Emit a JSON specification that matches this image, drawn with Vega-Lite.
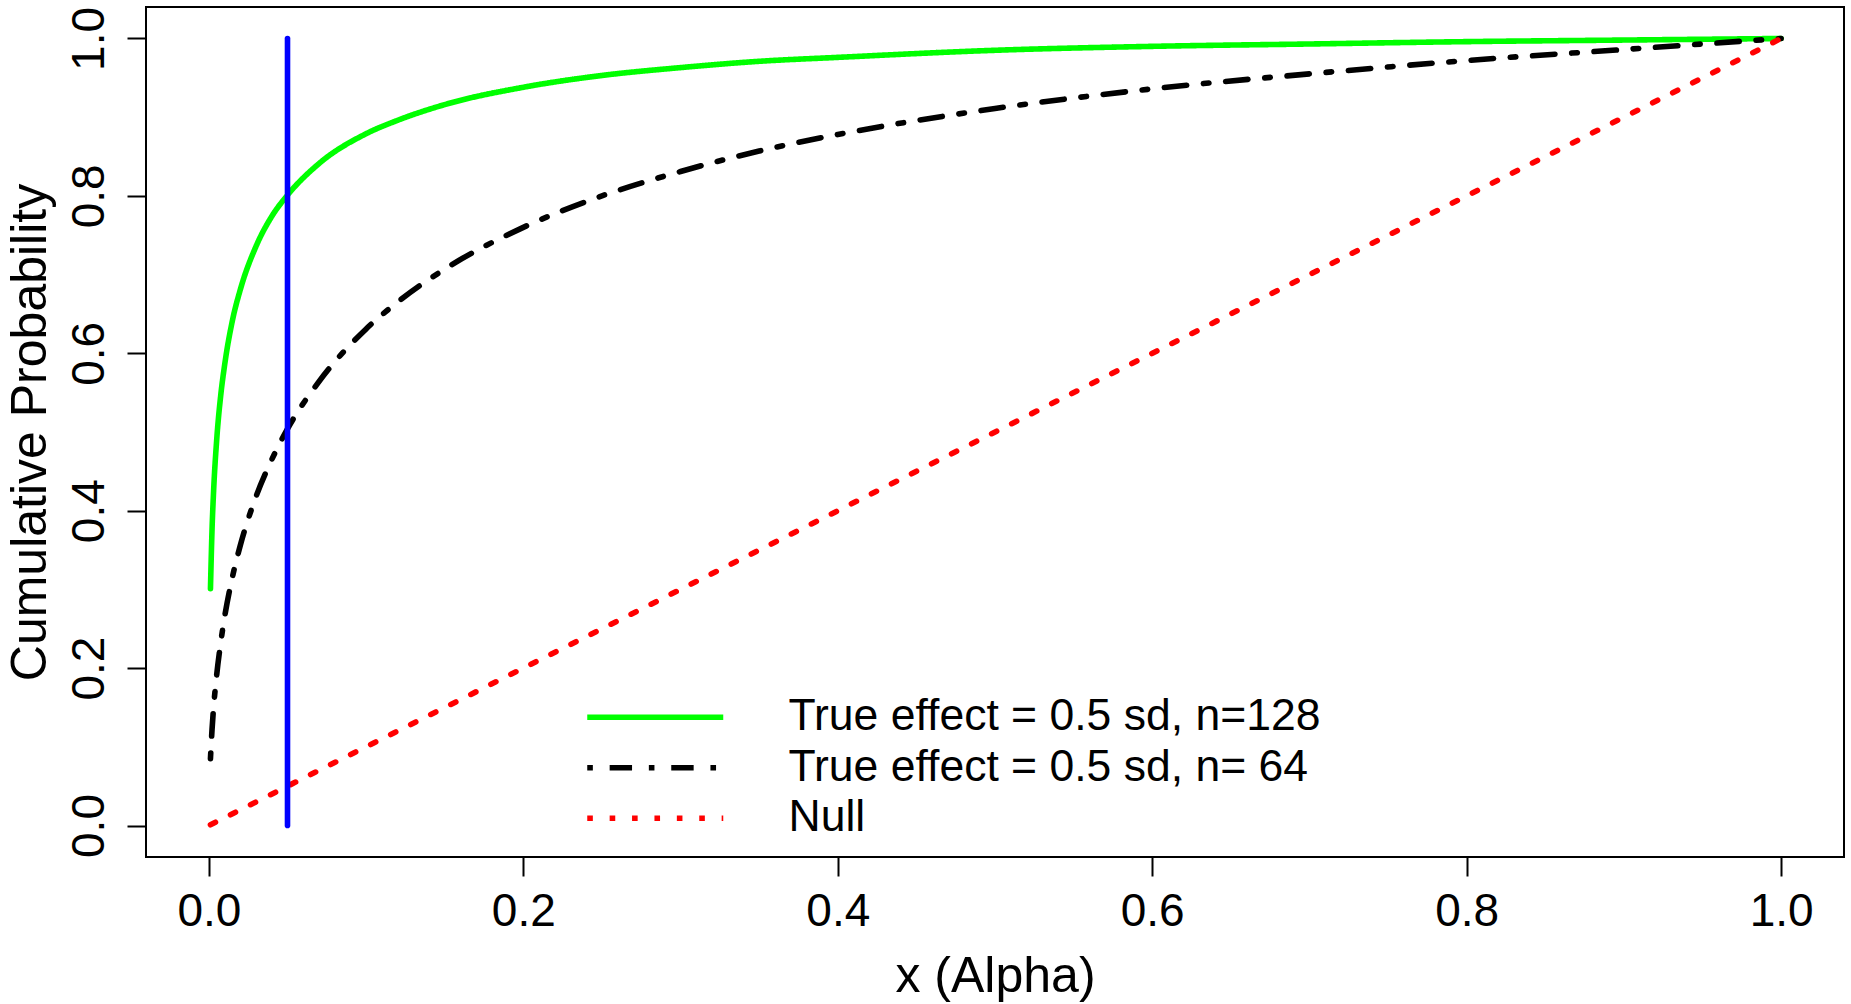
{
  "$schema": "https://vega.github.io/schema/vega-lite/v6.json",
  "width": 1698,
  "height": 850,
  "autosize": {"type": "none"},
  "padding": {"left": 146, "top": 7, "right": 7, "bottom": 147},
  "background": "white",
  "title": {
    "text": "Power by Type I error rate, p-value cutoff",
    "fontSize": 62,
    "fontWeight": "bold",
    "font": "Liberation Sans",
    "anchor": "middle",
    "frame": "group",
    "baseline": "alphabetic",
    "offset": 15,
    "color": "black"
  },
  "config": {
    "view": {"stroke": "black", "strokeWidth": 2},
    "axis": {
      "grid": false,
      "domain": false,
      "tickSize": 19,
      "tickWidth": 2,
      "tickColor": "black",
      "labelFont": "Liberation Sans",
      "labelFontSize": 46,
      "labelColor": "black",
      "labelFlush": false,
      "labelOverlap": false,
      "labelBound": false,
      "titleFont": "Liberation Sans",
      "titleFontSize": 50,
      "titleFontWeight": "normal",
      "titleColor": "black"
    }
  },
  "datasets": {
    "curves": [
      {"x": 0.001, "p": 0.301, "series": "True effect = 0.5 sd, n=128"},
      {"x": 0.002, "p": 0.376, "series": "True effect = 0.5 sd, n=128"},
      {"x": 0.003, "p": 0.425, "series": "True effect = 0.5 sd, n=128"},
      {"x": 0.005, "p": 0.491, "series": "True effect = 0.5 sd, n=128"},
      {"x": 0.0075, "p": 0.546, "series": "True effect = 0.5 sd, n=128"},
      {"x": 0.01, "p": 0.585, "series": "True effect = 0.5 sd, n=128"},
      {"x": 0.015, "p": 0.642, "series": "True effect = 0.5 sd, n=128"},
      {"x": 0.02, "p": 0.681, "series": "True effect = 0.5 sd, n=128"},
      {"x": 0.03, "p": 0.736, "series": "True effect = 0.5 sd, n=128"},
      {"x": 0.04, "p": 0.774, "series": "True effect = 0.5 sd, n=128"},
      {"x": 0.05, "p": 0.801, "series": "True effect = 0.5 sd, n=128"},
      {"x": 0.07, "p": 0.841, "series": "True effect = 0.5 sd, n=128"},
      {"x": 0.1, "p": 0.879, "series": "True effect = 0.5 sd, n=128"},
      {"x": 0.12, "p": 0.896, "series": "True effect = 0.5 sd, n=128"},
      {"x": 0.15, "p": 0.916, "series": "True effect = 0.5 sd, n=128"},
      {"x": 0.2, "p": 0.938, "series": "True effect = 0.5 sd, n=128"},
      {"x": 0.25, "p": 0.953, "series": "True effect = 0.5 sd, n=128"},
      {"x": 0.3, "p": 0.963, "series": "True effect = 0.5 sd, n=128"},
      {"x": 0.35, "p": 0.971, "series": "True effect = 0.5 sd, n=128"},
      {"x": 0.4, "p": 0.976, "series": "True effect = 0.5 sd, n=128"},
      {"x": 0.5, "p": 0.985, "series": "True effect = 0.5 sd, n=128"},
      {"x": 0.6, "p": 0.99, "series": "True effect = 0.5 sd, n=128"},
      {"x": 0.7, "p": 0.993, "series": "True effect = 0.5 sd, n=128"},
      {"x": 0.8, "p": 0.996, "series": "True effect = 0.5 sd, n=128"},
      {"x": 0.9, "p": 0.998, "series": "True effect = 0.5 sd, n=128"},
      {"x": 0.95, "p": 0.999, "series": "True effect = 0.5 sd, n=128"},
      {"x": 1.0, "p": 1.0, "series": "True effect = 0.5 sd, n=128"},
      {"x": 0.001, "p": 0.085, "series": "True effect = 0.5 sd, n= 64"},
      {"x": 0.002, "p": 0.122, "series": "True effect = 0.5 sd, n= 64"},
      {"x": 0.003, "p": 0.15, "series": "True effect = 0.5 sd, n= 64"},
      {"x": 0.005, "p": 0.192, "series": "True effect = 0.5 sd, n= 64"},
      {"x": 0.0075, "p": 0.232, "series": "True effect = 0.5 sd, n= 64"},
      {"x": 0.01, "p": 0.265, "series": "True effect = 0.5 sd, n= 64"},
      {"x": 0.015, "p": 0.316, "series": "True effect = 0.5 sd, n= 64"},
      {"x": 0.02, "p": 0.356, "series": "True effect = 0.5 sd, n= 64"},
      {"x": 0.03, "p": 0.418, "series": "True effect = 0.5 sd, n= 64"},
      {"x": 0.04, "p": 0.465, "series": "True effect = 0.5 sd, n= 64"},
      {"x": 0.05, "p": 0.504, "series": "True effect = 0.5 sd, n= 64"},
      {"x": 0.07, "p": 0.564, "series": "True effect = 0.5 sd, n= 64"},
      {"x": 0.1, "p": 0.631, "series": "True effect = 0.5 sd, n= 64"},
      {"x": 0.12, "p": 0.665, "series": "True effect = 0.5 sd, n= 64"},
      {"x": 0.15, "p": 0.707, "series": "True effect = 0.5 sd, n= 64"},
      {"x": 0.2, "p": 0.76, "series": "True effect = 0.5 sd, n= 64"},
      {"x": 0.25, "p": 0.8, "series": "True effect = 0.5 sd, n= 64"},
      {"x": 0.3, "p": 0.831, "series": "True effect = 0.5 sd, n= 64"},
      {"x": 0.35, "p": 0.857, "series": "True effect = 0.5 sd, n= 64"},
      {"x": 0.4, "p": 0.878, "series": "True effect = 0.5 sd, n= 64"},
      {"x": 0.5, "p": 0.911, "series": "True effect = 0.5 sd, n= 64"},
      {"x": 0.6, "p": 0.936, "series": "True effect = 0.5 sd, n= 64"},
      {"x": 0.7, "p": 0.955, "series": "True effect = 0.5 sd, n= 64"},
      {"x": 0.8, "p": 0.972, "series": "True effect = 0.5 sd, n= 64"},
      {"x": 0.9, "p": 0.986, "series": "True effect = 0.5 sd, n= 64"},
      {"x": 0.95, "p": 0.993, "series": "True effect = 0.5 sd, n= 64"},
      {"x": 1.0, "p": 1.0, "series": "True effect = 0.5 sd, n= 64"},
      {"x": 0.001, "p": 0.001, "series": "Null"},
      {"x": 1.0, "p": 1.0, "series": "Null"}
    ],
    "alpha": [{"x": 0.05, "y0": 0, "y1": 1}]
  },
  "layer": [
    {
      "data": {"name": "curves"},
      "mark": {"type": "line", "strokeWidth": 5.6, "strokeCap": "round", "strokeJoin": "round", "interpolate": "monotone"},
      "encoding": {
        "x": {
          "field": "x", "type": "quantitative",
          "scale": {"domain": [-0.04, 1.04], "nice": false, "zero": false},
          "axis": {
            "values": [0, 0.2, 0.4, 0.6, 0.8, 1],
            "format": ".1f",
            "title": "x (Alpha)",
            "labelBaseline": "alphabetic",
            "labelPadding": 49,
            "titleY": 134,
            "titleBaseline": "alphabetic"
          }
        },
        "y": {
          "field": "p", "type": "quantitative",
          "scale": {"domain": [-0.04, 1.04], "nice": false, "zero": false},
          "axis": {
            "values": [0, 0.2, 0.4, 0.6, 0.8, 1],
            "format": ".1f",
            "title": "Cumulative Probability",
            "labelAngle": -90,
            "labelAlign": "center",
            "labelBaseline": "alphabetic",
            "labelPadding": 24,
            "titleX": -101,
            "titleY": 425,
            "titleAngle": -90,
            "titleAlign": "center",
            "titleBaseline": "alphabetic"
          }
        },
        "color": {
          "field": "series", "type": "nominal",
          "scale": {
            "domain": ["True effect = 0.5 sd, n=128", "True effect = 0.5 sd, n= 64", "Null"],
            "range": ["#00FF00", "#000000", "#FF0000"]
          },
          "legend": {
            "orient": "none",
            "legendX": 487,
            "legendY": 688,
            "title": null,
            "padding": 0,
            "symbolType": "M-4,0H4",
            "symbolSize": 1156,
            "symbolStrokeWidth": 5.6,
            "symbolFillColor": "transparent",
            "labelFont": "Liberation Sans",
            "labelFontSize": 44.5,
            "labelColor": "black",
            "labelOffset": 111,
            "labelLimit": 2000,
            "rowPadding": 5.5
          }
        },
        "strokeDash": {
          "field": "series", "type": "nominal",
          "scale": {
            "domain": ["True effect = 0.5 sd, n=128", "True effect = 0.5 sd, n= 64", "Null"],
            "range": [[1, 0], [5.6, 16.8, 22.4, 16.8], [5.6, 16.8]]
          },
          "legend": {
            "orient": "none",
            "legendX": 487,
            "legendY": 688,
            "title": null,
            "padding": 0,
            "symbolType": "M-4,0H4",
            "symbolSize": 1156,
            "symbolStrokeWidth": 5.6,
            "symbolFillColor": "transparent",
            "labelFont": "Liberation Sans",
            "labelFontSize": 44.5,
            "labelColor": "black",
            "labelOffset": 111,
            "labelLimit": 2000,
            "rowPadding": 5.5
          }
        }
      }
    },
    {
      "data": {"name": "alpha"},
      "mark": {"type": "rule", "color": "#0000FF", "strokeWidth": 5.6, "strokeCap": "round"},
      "encoding": {
        "x": {"field": "x", "type": "quantitative"},
        "y": {"field": "y0", "type": "quantitative"},
        "y2": {"field": "y1"}
      }
    }
  ]
}
